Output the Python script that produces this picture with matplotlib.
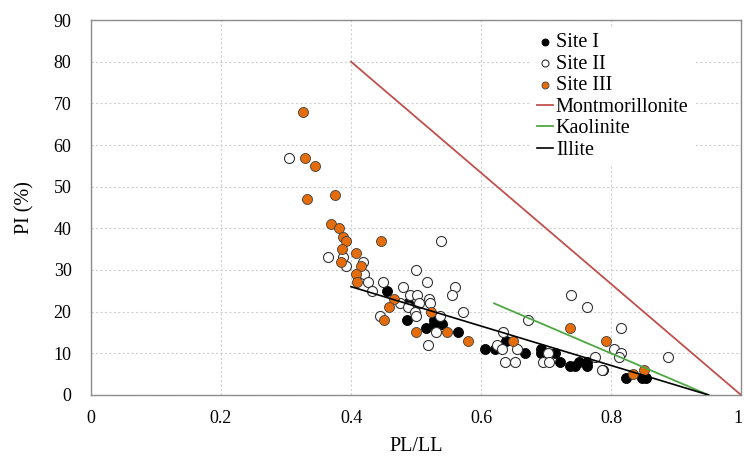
import matplotlib.pyplot as plt
import matplotlib.transforms as mtransforms

# PL/LL and PI (%)
site1_x = [0.456, 0.488, 0.486, 0.527, 0.540, 0.527, 0.515, 0.565, 0.606, 0.622,
           0.638, 0.667, 0.693, 0.693, 0.714, 0.722, 0.737, 0.750, 0.763, 0.763,
           0.745, 0.788, 0.823, 0.847, 0.854]
site1_y = [25, 22, 18, 18, 17, 17, 16, 15, 11, 11,
           13, 10, 11, 10, 10, 8, 7, 8, 8, 7,
           7, 6, 4, 4, 4]

site2_x = [0.305, 0.365, 0.392, 0.388, 0.419, 0.420, 0.426, 0.449, 0.500, 0.538,
           0.517, 0.560, 0.555, 0.480, 0.433, 0.491, 0.501, 0.520, 0.522, 0.475,
           0.488, 0.498, 0.504, 0.445, 0.572, 0.530, 0.519, 0.537, 0.500, 0.634,
           0.624, 0.632, 0.655, 0.637, 0.652, 0.673, 0.703, 0.696, 0.705, 0.738,
           0.763, 0.816, 0.804, 0.816, 0.813, 0.888, 0.775, 0.786]
site2_y = [57, 33, 31, 33, 32, 29, 27, 27, 30, 37,
           27, 26, 24, 26, 25, 24, 24, 23, 22, 22,
           21, 20, 22, 19, 20, 15, 12, 19, 19, 15,
           12, 11, 11, 8, 8, 18, 10, 8, 8, 24,
           21, 16, 11, 10, 9, 9, 9, 6]

site3_x = [0.326, 0.329, 0.345, 0.333, 0.376, 0.369, 0.381, 0.387, 0.393, 0.446,
           0.386, 0.407, 0.384, 0.415, 0.408, 0.409, 0.466, 0.459, 0.451, 0.523,
           0.500, 0.548, 0.580, 0.649, 0.737, 0.793, 0.834, 0.850]
site3_y = [68, 57, 55, 47, 48, 41, 40, 38, 37, 37,
           35, 34, 32, 31, 29, 27, 23, 21, 18, 20,
           15, 15, 13, 13, 16, 13, 5, 6]

# reference lines (PL/LL, PI)
mont_x, mont_y = [0.4, 1.0], [80, 0]
kaol_x, kaol_y = [0.62, 0.95], [22, 0]
illi_x, illi_y = [0.4, 0.95], [26, 0]

plt.rcParams['font.family'] = ['Liberation Serif', 'DejaVu Serif']

fig = plt.figure(figsize=(7.44, 4.57), dpi=100)
ax = fig.add_axes([0.1223, 0.1357, 0.8737, 0.8205])

ms = 52
ax.scatter(site1_x, site1_y, s=ms, c='black', edgecolors='black', linewidths=0.6, zorder=3, label='Site I')
ax.scatter(site2_x, site2_y, s=ms, c='white', edgecolors='#333333', linewidths=0.8, zorder=4, label='Site II')
ax.scatter(site3_x, site3_y, s=ms, c='#E46C0A', edgecolors='#404040', linewidths=0.6, zorder=5, label='Site III')

ax.plot(mont_x, mont_y, color='#C0504D', lw=1.3, zorder=6, label='Montmorillonite')
ax.plot(kaol_x, kaol_y, color='#4EA742', lw=1.3, zorder=6, label='Kaolinite')
ax.plot(illi_x, illi_y, color='black', lw=1.2, zorder=6, label='Illite')

ax.set_xlim(0, 1)
ax.set_ylim(0, 90)
ax.set_xticks([0, 0.2, 0.4, 0.6, 0.8, 1])
ax.set_xticklabels(['0', '0.2', '0.4', '0.6', '0.8', '1'])
ax.set_yticks(range(0, 91, 10))
ax.tick_params(length=0, labelsize=13)
ax.tick_params(axis='y', pad=14)
ax.tick_params(axis='x', pad=11)
ax.grid(True, color='#d0d0d0', linestyle=(0, (2, 2)), linewidth=0.8, zorder=0)
ax.set_axisbelow(True)
for sp in ax.spines.values():
    sp.set_color('#8c8c8c')
    sp.set_linewidth(1.0)

# nudge the last x tick label so it stays inside the figure
last = ax.get_xticklabels()[-1]
last.set_transform(last.get_transform() + mtransforms.ScaledTranslation(-3 / 100, 0, fig.dpi_scale_trans))

ax.set_xlabel('PL/LL', fontsize=14.5, labelpad=7)
ax.set_ylabel('PI (%)', fontsize=14.5, labelpad=14)

leg = ax.legend(loc='upper left', bbox_to_anchor=(0.661, 1.008), fontsize=14.5,
                frameon=True, edgecolor='none', facecolor='white', framealpha=1,
                handlelength=0.8, handletextpad=0.15, labelspacing=0.12,
                borderpad=0.3, markerscale=0.7, fancybox=False)
leg.set_zorder(10)

fig.savefig('out.png', dpi=100)
